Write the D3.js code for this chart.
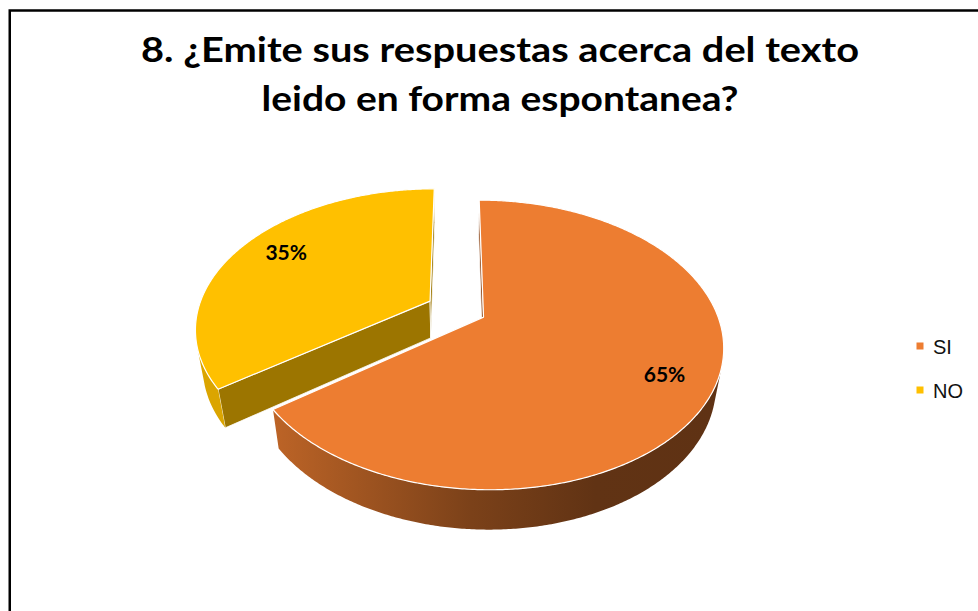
<!DOCTYPE html>
<html>
<head>
<meta charset="utf-8">
<script src="https://cdn.jsdelivr.net/npm/d3@7/dist/d3.min.js"></script>
<style>
body { margin: 0; background: #fff; }
svg { display: block; }
</style>
</head>
<body>
<svg id="chart" width="978" height="611"></svg>
<script>
var titleLines = ["8. ¿Emite sus respuestas acerca del texto", "leido en forma espontanea?"];
var categories = ["SI", "NO"];
var values = [65, 35];
var colors = ["#ED7D31", "#FFC000"];

var svg = d3.select("#chart");

// frame (right and bottom sides run off the picture)
svg.append("rect")
  .attr("x", 9.75).attr("y", 10.5)
  .attr("width", 1100).attr("height", 800)
  .attr("fill", "none").attr("stroke", "#000").attr("stroke-width", 2.5);

// title
var titleWidths = [718, 477];
svg.selectAll(".title").data(titleLines).enter().append("text")
  .attr("class", "title")
  .attr("x", 500)
  .attr("y", function(d, i) { return 62 + i * 49; })
  .attr("text-anchor", "middle")
  .attr("textLength", function(d, i) { return titleWidths[i]; })
  .attr("lengthAdjust", "spacingAndGlyphs")
  .style("font-family", "Lato, 'Liberation Sans', sans-serif")
  .style("font-weight", "bold")
  .style("font-size", "34px")
  .text(function(d) { return d; });

// 3d projection of a tilted disk
var cx = 456.5, cy = 309, R = 232, depth = 47, explode = 30, dist = 987;
var tilt = 36 * Math.PI / 180;
var sinT = Math.sin(tilt), cosT = Math.cos(tilt);

function project(X, Y, Z) {
  var D = Y * sinT + Z * cosT;
  var s = dist / (dist - D);
  return [cx + X * s, cy + (Z * sinT - Y * cosT) * s];
}

function shade(c, f) {
  var r = d3.rgb(c);
  return d3.rgb(r.r * f, r.g * f, r.b * f).formatHex();
}

var pie = d3.pie().sort(null).value(function(d) { return d; });
var arcs = pie(values).map(function(a, i) {
  var mid = (a.startAngle + a.endAngle) / 2;
  a.i = i;
  a.ox = explode * Math.sin(mid);
  a.oz = -explode * Math.cos(mid);
  a.mid = mid;
  return a;
});

function pt(a, th, r, Y) {
  return project(a.ox + r * Math.sin(th), Y, a.oz - r * Math.cos(th));
}

var line = d3.line();
var defs = svg.append("defs");

// side wall gradients, spread across the whole pie width
var wallStops = [[0, 0.86], [0.12, 0.78], [0.5, 0.52], [0.75, 0.41], [1, 0.40]];
arcs.forEach(function(a) {
  var g = defs.append("linearGradient")
    .attr("id", "wall" + a.i)
    .attr("gradientUnits", "userSpaceOnUse")
    .attr("x1", cx - R).attr("y1", 0)
    .attr("x2", cx + R + explode).attr("y2", 0);
  wallStops.forEach(function(s) {
    g.append("stop").attr("offset", s[0]).attr("stop-color", shade(colors[a.i], s[1]));
  });
});

var step = Math.PI / 360;
function arcSamples(a0, a1) {
  var n = Math.max(2, Math.ceil((a1 - a0) / step));
  return d3.range(n + 1).map(function(k) { return a0 + (a1 - a0) * k / n; });
}

// far slices first
var order = arcs.slice().sort(function(p, q) { return p.oz - q.oz; });
var pieG = svg.append("g");

order.forEach(function(a) {
  var g = pieG.append("g");
  var base = colors[a.i];

  // radial cut faces
  var faces = [
    { th: a.startAngle, vis: a.ox * Math.cos(a.startAngle) - Math.sin(a.startAngle) * (dist * cosT - a.oz) },
    { th: a.endAngle, vis: -a.ox * Math.cos(a.endAngle) + Math.sin(a.endAngle) * (dist * cosT - a.oz) }
  ];
  faces.forEach(function(f) {
    if (f.vis <= 0) return;
    var q = [pt(a, f.th, 0, 0), pt(a, f.th, R, 0), pt(a, f.th, R, -depth), pt(a, f.th, 0, -depth)];
    g.append("path")
      .attr("d", line(q) + "Z")
      .attr("fill", shade(base, 0.61))
      .attr("stroke", "#fff").attr("stroke-width", 0.8)
      .attr("stroke-linejoin", "round");
  });

  // outer curved wall, only the part that faces the viewer
  var samples = arcSamples(a.startAngle, a.endAngle);
  var runs = [], cur = null;
  samples.forEach(function(th) {
    var v = -a.ox * Math.sin(th) + a.oz * Math.cos(th) - R - dist * cosT * Math.cos(th);
    if (v > 0) {
      if (!cur) { cur = []; runs.push(cur); }
      cur.push(th);
    } else cur = null;
  });
  runs.forEach(function(run) {
    if (run.length < 2) return;
    var top = run.map(function(th) { return pt(a, th, R, 0); });
    var bot = run.slice().reverse().map(function(th) { return pt(a, th, R, -depth); });
    g.append("path")
      .attr("d", line(top.concat(bot)) + "Z")
      .attr("fill", "url(#wall" + a.i + ")");
  });

  // top face
  var topPts = [pt(a, a.startAngle, 0, 0)].concat(samples.map(function(th) { return pt(a, th, R, 0); }));
  g.append("path")
    .attr("d", line(topPts) + "Z")
    .attr("fill", base)
    .attr("stroke", "#fff").attr("stroke-width", 1.2)
    .attr("stroke-linejoin", "round");
});

// percentage labels (nudged towards the near side, as the chart tool does)
var total = d3.sum(values);
svg.selectAll(".lbl").data(arcs).enter().append("text")
  .attr("class", "lbl")
  .attr("transform", function(a) {
    var p = pt(a, a.mid, R * 0.78, 0);
    return "translate(" + (p[0] + 4) + "," + (p[1] - Math.cos(a.mid) * 10) + ")";
  })
  .attr("text-anchor", "middle")
  .attr("dy", "0.35em")
  .style("font-family", "Lato, 'Liberation Sans', sans-serif")
  .style("font-weight", "bold")
  .style("font-size", "21px")
  .text(function(a) { return Math.round(a.data / total * 100) + "%"; });

// legend
var legend = svg.selectAll(".leg").data(categories).enter().append("g")
  .attr("class", "leg")
  .attr("transform", function(d, i) { return "translate(916.5," + (346 + i * 44) + ")"; });
legend.append("rect")
  .attr("x", 0).attr("y", -3.5).attr("width", 7).attr("height", 7)
  .attr("fill", function(d, i) { return colors[i]; });
legend.append("text")
  .attr("x", 16.5).attr("y", 7.5)
  .style("font-family", "'Liberation Sans', Arial, sans-serif")
  .style("font-size", "20px")
  .attr("fill", "#111")
  .text(function(d) { return d; });
</script>
</body>
</html>
